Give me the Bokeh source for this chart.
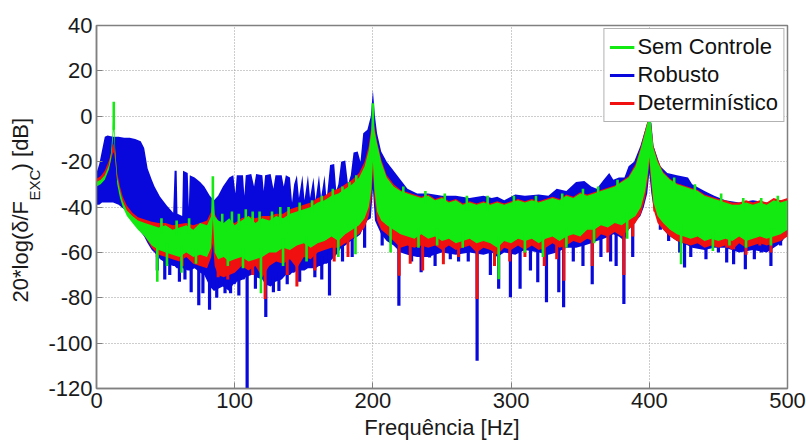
import numpy as np
from bokeh.plotting import figure
from bokeh.models import Range1d, Legend, LegendItem, FixedTicker, ColumnDataSource, Title
from bokeh.embed import file_html
from bokeh.resources import INLINE

FONT = "Liberation Sans"

# ---------------- data ----------------
x_ticks = [0, 100, 200, 300, 400, 500]
y_ticks = [-120, -100, -80, -60, -40, -20, 0, 20, 40]
y_tick_labels = ["-120", "-100", "-80", "-60", "-40", "-20", "0", "20", "40"]

series_names = ["Sem Controle", "Robusto", "Determinístico"]

# common frequency grid for "Sem Controle" and "Determinístico" envelopes [Hz]
freq_gr = [0, 3, 6, 9, 10.5, 11.5, 12.2, 12.5, 12.8, 13.5,
           15, 17, 19, 22, 26, 30, 35, 40, 45, 50,
           55, 60, 65, 70, 75, 80, 83, 84.2, 85.5, 88,
           92, 96, 100, 105, 110, 115, 120, 125, 130, 135,
           140, 145, 150, 155, 160, 165, 170, 175, 180, 185,
           190, 194, 197, 199, 200, 201, 203, 206, 210, 215,
           220, 225, 230, 235, 240, 245, 250, 255, 260, 265,
           270, 275, 280, 285, 290, 295, 300, 305, 310, 315,
           320, 325, 330, 335, 340, 345, 350, 355, 360, 365,
           370, 375, 380, 385, 390, 394, 397, 399, 400, 401,
           403, 406, 410, 415, 420, 425, 430, 435, 440, 445,
           450, 455, 460, 465, 470, 475, 480, 485, 490, 495,
           500]

# Sem Controle: upper / lower edge of the dense trace [dB]
sem_hi = [-29, -28, -26, -21.5, -16, -8, 2, 6.5, 2, -14,
          -27, -33, -37.5, -41.5, -44, -46, -47, -48, -49, -48,
          -50, -49, -48, -50, -47, -48, -44, -26.5, -44, -46,
          -47, -45, -48, -46, -44, -47, -45, -46, -44, -45,
          -43, -42, -41, -40, -38, -37, -35, -34, -32, -30,
          -27, -22, -15, -6, 5.5, -6, -12, -20, -27, -31,
          -33, -34, -35, -36, -35, -37, -36, -38, -37, -39,
          -38, -39, -38, -39, -38, -39, -38, -37, -38, -37,
          -38, -37, -36, -37, -35, -36, -34, -35, -34, -33,
          -32, -31, -29, -27, -22, -14, -7, -2, 0, -2,
          -14, -20, -25, -28, -30, -31, -32, -33, -35, -36,
          -37, -38, -39, -39, -38, -39, -38, -39, -37, -38,
          -37]
sem_lo = [-31, -30, -28, -23.5, -19, -13, -8, -6, -9, -18,
          -30, -36, -40, -44, -47, -50, -53, -57, -59, -60,
          -61, -62, -60, -62, -61, -62, -58, -45, -60, -63,
          -62, -64, -63, -62, -64, -63, -62, -60, -60, -58,
          -59, -57, -56, -58, -56, -55, -53, -55, -52, -50,
          -48, -45, -40, -32, -20, -32, -42, -46, -48, -50,
          -52, -53, -54, -52, -54, -53, -55, -54, -56, -55,
          -54, -56, -55, -56, -58, -55, -56, -54, -55, -54,
          -56, -54, -53, -55, -53, -52, -53, -50, -50, -48,
          -49, -47, -48, -46, -44, -40, -33, -25, -18, -25,
          -38, -44, -47, -50, -52, -53, -54, -53, -55, -54,
          -55, -54, -55, -53, -55, -54, -53, -54, -53, -52,
          -50]

# Determinístico
det_hi = [-27.5, -26.5, -24, -19.5, -16.5, -13.5, -12.5, -12, -13, -16,
          -25, -31, -35.5, -39.5, -42.5, -44.5, -45.5, -46.5, -47, -47,
          -48, -47.5, -47, -48, -47, -46, -42, -37, -43, -46,
          -47, -46, -47, -45, -44, -45, -44, -44, -43, -43,
          -41, -40, -39, -38, -36, -35, -33, -32, -30, -28,
          -25, -20, -13, -4, 6, -4, -11, -19, -26, -30,
          -32.5, -33.5, -34.5, -35.5, -34.5, -36.5, -35.5, -37.5, -36.5, -38.5,
          -37.5, -38.5, -37.5, -38.5, -37.5, -38.5, -37.5, -36.5, -37.5, -36.5,
          -37.5, -36.5, -35.5, -36.5, -34.5, -35.5, -33.5, -34.5, -33.5, -32.5,
          -31.5, -30.5, -28.5, -26.5, -21, -13, -6, -1.5, 0.5, -1.5,
          -13, -19, -24.5, -27.5, -29.5, -30.5, -31.5, -32.5, -34.5, -35.5,
          -36.5, -37, -38, -38, -37, -38, -37, -38, -36, -37,
          -36]
det_lo = [-30, -29, -27, -22.5, -19.5, -17, -16, -16, -17, -19.5,
          -28, -34, -38.5, -42.5, -46, -49, -53, -58, -61, -62,
          -63, -64, -62, -65, -66, -67, -62, -56, -66, -70,
          -71, -70, -69, -66, -68, -66, -71, -66, -64, -65,
          -63, -67, -62, -63, -60, -59, -58, -58, -56, -54,
          -52, -49, -44, -36, -24, -36, -46, -50, -52, -55,
          -58, -57, -58, -57, -58, -57, -59, -57, -59, -58,
          -57, -60, -58, -59, -61, -58, -59, -57, -59, -57,
          -59, -58, -56, -58, -57, -55, -56, -54, -55, -52,
          -53, -51, -53, -50, -47, -43, -36, -28, -20, -28,
          -41, -47, -50, -53, -55, -56, -57, -56, -58, -57,
          -58, -57, -59, -56, -58, -57, -56, -57, -56, -55,
          -53]

# Robusto
freq_rob = [0, 2, 4, 6, 8, 12, 16, 20, 24, 28,
            32, 34.5, 37, 40, 42, 46, 51, 55.5, 56.5, 58,
            58.6, 62, 62.6, 66, 66.8, 67.5, 71, 75, 78, 82,
            85, 88, 91.5, 96, 99, 100.5, 101.5, 106, 107, 108,
            112, 114, 115.5, 120, 121, 122, 126, 128, 129.5, 134,
            135.5, 137, 140, 141.5, 143, 145, 146.5, 149, 150.5, 153,
            154.5, 157, 158.5, 161, 162.5, 165, 166.5, 169, 172, 173.5,
            175, 177, 180, 182, 184, 186, 189, 191, 193, 196,
            198.5, 200, 201.5, 203, 206, 210, 215, 220, 225, 232,
            240, 250, 260, 270, 280, 286, 290, 295, 303, 310,
            320, 327, 333, 340, 347, 353, 358, 362, 367, 371,
            374, 378, 382, 385, 389, 393.6, 396, 398.5, 400, 401.5,
            403, 408, 413, 420, 428, 431, 440, 447, 455, 465,
            475, 485, 495, 500]
rob_hi = [-25, -21, -15, -9, -8.5, -9, -9, -9.5, -9.5, -10,
          -11, -14, -23, -28, -31, -35.5, -39.5, -42.5, -24, -24,
          -43, -44, -24, -25, -40, -26, -27, -29, -31, -35,
          -37, -35, -31, -27, -26, -34, -26, -26, -35, -26,
          -25.5, -31, -25.5, -26, -33, -26, -25.5, -32, -26, -26,
          -31, -26, -27, -38, -30, -26, -36, -26, -37, -26,
          -36, -27, -37, -26, -36, -26, -37, -21.5, -21, -33,
          -30, -20, -19.5, -30, -26, -16, -15.5, -20, -7.5, -6,
          0, 11.5, 0, -7.5, -15.5, -20, -24, -28, -32, -34,
          -34, -35, -35, -36, -35, -36, -35.5, -37, -34.5, -35,
          -34.5, -35, -32, -33, -29, -28.5, -31, -32, -28, -25,
          -28, -27, -27, -22, -20, -13, -8, -3, -0.5, -3,
          -13, -22, -25, -26, -27, -30, -33, -35, -37, -38,
          -37, -38, -37, -37]
rob_lo = [-39, -39, -38, -38, -38, -38, -39, -41, -43, -47,
          -51, -53, -56, -59, -60, -63, -65, -66, -66, -67,
          -67, -67, -67, -68, -68, -68, -67, -69, -70, -75,
          -77, -76, -75, -77, -74, -74, -73, -72, -72, -71,
          -70, -70, -71, -72, -73, -74, -75, -74, -73, -72,
          -71, -70, -70, -69, -69, -68, -68, -68, -68, -67,
          -67, -67, -67, -66, -66, -65, -65, -64, -62, -61,
          -60, -58, -57, -56, -55, -54, -53, -52, -49, -46,
          -45, -32, -46, -48, -52, -55, -57, -60, -61, -62,
          -62, -60, -61, -60, -61, -60, -62, -60, -61, -59,
          -60, -61, -60, -58, -58, -57, -56, -55, -54, -53,
          -52, -53, -55, -50, -47, -44, -40, -34, -25, -34,
          -40, -48, -52, -55, -57, -58, -59, -58, -58, -60,
          -59, -60, -56, -52]

# deep single-bin minima (frequency, dB)
rob_dip_f = [44, 49.4, 53, 60, 64, 68.5, 74, 77, 81.8, 87, 93, 97, 103, 109, 115,
             122.5, 128, 132, 138, 147, 158, 163, 168.6, 178, 185, 194, 206.7, 218.8,
             228, 234.9, 241, 245, 256, 262, 269, 275.4, 285, 291, 299.5, 306.5, 314,
             319.3, 325.6, 334.5, 338, 345, 352, 358.7, 365, 372, 376, 381.6, 388,
             408, 414, 422, 425.5, 430, 441, 450, 456, 461, 469.5, 476, 481, 488, 495]
rob_dip_v = [-68, -72, -70, -73, -72, -77.6, -83.3, -78, -85.3, -80, -78, -78, -79, -125, -76,
             -88.5, -77.6, -77, -74, -73, -71, -72, -79, -64, -62, -58, -57, -83.5,
             -64, -68.8, -62.3, -66, -63, -64, -64, -107.8, -70, -76, -79.8, -76, -68,
             -73.2, -82, -77.6, -84.2, -64, -66, -74, -62, -64, -66, -82.7, -62,
             -50, -55, -60, -66.7, -62, -63, -60, -64.5, -65.2, -67.4, -63, -60, -66, -57]
det_dip_f = [44, 62, 88, 95, 113, 122, 138, 145, 158, 172, 182, 219, 227, 236, 251, 262,
             275.4, 288, 299, 310, 324, 333, 338.2, 358.7, 370, 381.6, 388, 404, 414, 436,
             456, 461, 470, 480, 488]
det_dip_v = [-62, -66, -71, -72, -70, -80.5, -70, -75, -68, -64, -62, -70.3, -65, -68, -65.2, -62,
             -80.5, -66, -64, -62, -66, -63, -72.5, -66, -60, -70, -53, -42, -48.4, -56,
             -58, -58.6, -61, -57, -60]
sem_dip_f = [44, 51, 61.5, 72, 95, 106, 119, 135, 152, 175, 187.4, 212.8, 233, 246.5, 265,
             291, 310, 323, 340, 360, 384, 423, 446, 458, 470, 488]
sem_dip_v = [-73, -66, -69, -65, -66, -67, -78, -66, -64, -62, -60.8, -60, -58, -57, -58,
             -71.8, -60, -62, -58, -56, -54, -65.2, -59.4, -57, -58, -57]
# isolated maxima poking above the dense band of "Sem Controle"
sem_up_f = [47, 58, 67, 91, 98, 103, 108, 113, 118, 127, 133, 139, 147, 156, 163,
            171, 178, 183, 188, 222, 238, 252, 268, 283, 302, 318, 337, 352, 363,
            377, 418, 433, 452, 468, 481, 493]
sem_up_v = [-45, -46, -45, -43, -42, -43, -41, -42, -42, -42, -40, -40, -38, -37, -35,
            -32, -31, -29, -26, -31, -33, -34, -35, -35, -35, -35, -34, -32, -31,
            -28, -27, -30, -34, -36, -36, -35]
# resonance tips of the uncontrolled response
sem_peak_f = [12.5, 84.2, 200, 400]
sem_peak_v = [6.4, -26.5, 5.7, 0]

C_SEM = "#12ea12"
C_ROB = "#0808dc"
C_DET = "#f01010"
TXT = "#1a1a1a"

# ---------------- figure ----------------
p = figure(width=806, height=442, x_range=Range1d(0, 500), y_range=Range1d(-120, 40),
           output_backend="svg", toolbar_location=None,
           min_border_left=96, min_border_right=19, min_border_top=25, min_border_bottom=52)
p.background_fill_color = "white"
p.border_fill_color = "white"


def band(freq, hi, lo, color):
    src = ColumnDataSource(dict(x=freq, y1=lo, y2=hi))
    p.varea(x="x", y1="y1", y2="y2", source=src, fill_color=color, fill_alpha=1.0)


def spikes(dip_f, dip_v, freq, lo, color, w=3):
    start = list(np.interp(dip_f, freq, lo) + 4)
    src = ColumnDataSource(dict(x=dip_f, y0=start, y1=dip_v))
    p.segment(x0="x", y0="y0", x1="x", y1="y1", source=src, line_color=color,
              line_width=w)


band(freq_rob, rob_hi, rob_lo, C_ROB)
spikes(rob_dip_f, rob_dip_v, freq_rob, rob_lo, C_ROB, 3.2)
band(freq_gr, det_hi, det_lo, C_DET)
spikes(det_dip_f, det_dip_v, freq_gr, det_lo, C_DET, 3)
band(freq_gr, sem_hi, sem_lo, C_SEM)
spikes(sem_dip_f, sem_dip_v, freq_gr, sem_lo, C_SEM, 2.6)
up_start = list(np.interp(sem_up_f, freq_gr, sem_hi) - 3)
p.segment(x0=sem_up_f, y0=up_start, x1=sem_up_f, y1=sem_up_v,
          line_color=C_SEM, line_width=2.6)
pk_start = list(np.interp(sem_peak_f, freq_gr, sem_lo))
p.segment(x0=sem_peak_f, y0=pk_start, x1=sem_peak_f, y1=sem_peak_v,
          line_color=C_SEM, line_width=2.6)

# axes
p.xaxis.ticker = FixedTicker(ticks=x_ticks)
p.yaxis.ticker = FixedTicker(ticks=y_ticks)
p.yaxis.major_label_overrides = {t: s for t, s in zip(y_ticks, y_tick_labels)}
p.axis.major_label_text_font = FONT
p.axis.major_label_text_font_size = "22px"
p.axis.major_label_text_color = TXT
p.axis.axis_line_color = "#808080"
p.axis.axis_line_width = 1.5
p.axis.major_tick_line_color = "#808080"
p.axis.major_tick_in = 6
p.axis.major_tick_out = 0
p.axis.minor_tick_line_color = None
p.xaxis.major_label_standoff = 4
p.yaxis.major_label_standoff = 4
p.xaxis.axis_label = "Frequência [Hz]"
p.xaxis.axis_label_text_font = FONT
p.xaxis.axis_label_text_font_size = "22px"
p.xaxis.axis_label_text_font_style = "normal"
p.xaxis.axis_label_text_color = TXT
p.xaxis.axis_label_text_line_height = 0.8
p.xaxis.axis_label_standoff = 4
p.outline_line_color = "#808080"
p.outline_line_width = 1.5

p.grid.grid_line_color = "#9a9a9a"
p.grid.grid_line_dash = "1 2"
p.grid.grid_line_width = 1

# y-axis title: "20*log(δ/F" + subscript "EXC" + ") [dB]"
t_exc = Title(text="EXC", text_font=FONT, text_font_size="15px", text_font_style="normal",
              text_color=TXT, align="left", offset=188, standoff=5)
p.add_layout(t_exc, "left")
t_main = Title(text="20*log(δ/F\u00a0\u00a0\u00a0\u00a0\u00a0) [dB]", text_font=FONT,
               text_font_size="22px", text_font_style="normal", text_color=TXT,
               align="left", offset=86, standoff=-22)
p.add_layout(t_main, "left")

# legend (sample lines lie outside the visible range)
leg_src = ColumnDataSource(dict(x=[-60, -50], y=[0, 0]))
lg_sem = p.line(x="x", y="y", source=leg_src, line_color=C_SEM, line_width=3)
lg_rob = p.line(x="x", y="y", source=leg_src, line_color=C_ROB, line_width=3)
lg_det = p.line(x="x", y="y", source=leg_src, line_color=C_DET, line_width=3)
legend = Legend(items=[LegendItem(label=series_names[0], renderers=[lg_sem]),
                       LegendItem(label=series_names[1], renderers=[lg_rob]),
                       LegendItem(label=series_names[2], renderers=[lg_det])],
                location="top_right", margin=3, padding=5, spacing=2,
                label_height=26, glyph_width=25, glyph_height=20, label_standoff=3,
                label_text_font=FONT, label_text_font_size="22px",
                label_text_color="#111111",
                border_line_color="#666666", border_line_width=1,
                background_fill_color="white", background_fill_alpha=1.0)
p.add_layout(legend)

open("out.html", "w").write(file_html(p, INLINE))
